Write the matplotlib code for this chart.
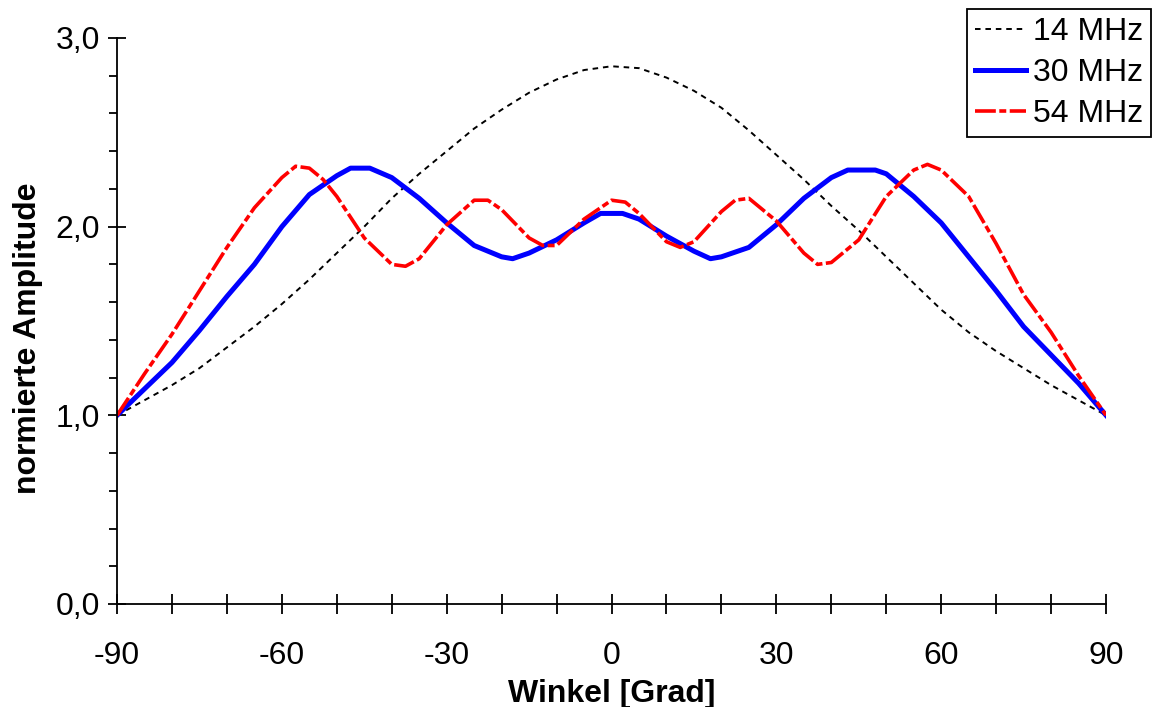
import numpy as np
import matplotlib.pyplot as plt
from matplotlib.ticker import MultipleLocator, FuncFormatter

plt.rcParams['font.family'] = ['Liberation Sans', 'DejaVu Sans']
plt.rcParams['axes.unicode_minus'] = False
plt.rcParams['lines.scale_dashes'] = False

# 14 MHz
w14 = [-90, -85, -80, -75, -70, -65, -60, -55, -50, -45, -40, -35, -30, -25, -20,
       -15, -10, -5, 0, 5, 10, 15, 20, 25, 30, 35, 40, 45, 50, 55, 60, 65, 70, 75,
       80, 85, 90]
a14 = [1.00, 1.08, 1.16, 1.25, 1.36, 1.47, 1.59, 1.72, 1.86, 2.00, 2.15, 2.28, 2.40,
       2.52, 2.62, 2.71, 2.78, 2.83, 2.85, 2.84, 2.79, 2.72, 2.63, 2.51, 2.38, 2.25,
       2.11, 1.98, 1.84, 1.70, 1.56, 1.44, 1.34, 1.25, 1.16, 1.08, 1.00]

# 30 MHz
w30 = [-90, -85, -80, -75, -70, -65, -60, -55, -50, -47.5, -44, -40, -35, -30, -25,
       -20, -18, -15, -10, -5, -2, 2, 5, 10, 15, 18, 20, 25, 30, 35, 40, 43, 48, 50,
       55, 60, 65, 70, 75, 80, 85, 90]
a30 = [1.00, 1.14, 1.28, 1.45, 1.63, 1.80, 2.00, 2.17, 2.27, 2.31, 2.31, 2.26, 2.15,
       2.02, 1.90, 1.84, 1.83, 1.86, 1.93, 2.02, 2.07, 2.07, 2.04, 1.95, 1.87, 1.83,
       1.84, 1.89, 2.01, 2.15, 2.26, 2.30, 2.30, 2.28, 2.16, 2.02, 1.84, 1.66, 1.47,
       1.32, 1.17, 1.00]

# 54 MHz
w54 = [-90, -85, -80, -75, -70, -65, -60, -57.5, -55, -52.5, -50, -45, -40, -37.5,
       -35, -30, -25, -22.5, -20, -15, -12.5, -10, -5, 0, 2.5, 5, 10, 12.5, 15, 20,
       22.5, 25, 30, 35, 37.5, 40, 45, 50, 55, 57.5, 60, 65, 70, 75, 80, 85, 90]
a54 = [1.00, 1.22, 1.43, 1.66, 1.89, 2.10, 2.26, 2.32, 2.31, 2.25, 2.16, 1.94, 1.80,
       1.79, 1.83, 2.01, 2.14, 2.14, 2.09, 1.94, 1.90, 1.90, 2.04, 2.14, 2.13, 2.07,
       1.92, 1.89, 1.92, 2.08, 2.14, 2.15, 2.03, 1.86, 1.80, 1.81, 1.93, 2.16, 2.30,
       2.33, 2.30, 2.16, 1.91, 1.64, 1.44, 1.21, 1.00]

fig = plt.figure(figsize=(11.52, 7.07), dpi=100)
ax = fig.add_axes([0.1016, 0.1457, 0.8585, 0.8006])

ax.plot(w14, a14, color='black', lw=1.4, dashes=(4, 3.5), label='14 MHz')
ax.plot(w30, a30, color='#0000ff', lw=3.6, label='30 MHz')
ax.plot(w54, a54, color='#ff0000', lw=2.6, dashes=(15, 2.5, 5, 2.5), label='54 MHz')

ax.set_xlim(-90, 90)
ax.set_ylim(0, 3)
for s in ['top', 'right']:
    ax.spines[s].set_visible(False)
for s in ['left', 'bottom']:
    ax.spines[s].set_linewidth(1.3)

ax.xaxis.set_major_locator(MultipleLocator(30))
ax.xaxis.set_minor_locator(MultipleLocator(10))
ax.yaxis.set_major_locator(MultipleLocator(1))
ax.yaxis.set_minor_locator(MultipleLocator(0.2))
ax.yaxis.set_major_formatter(FuncFormatter(lambda v, p: f"{v:.1f}".replace('.', ',')))
ax.xaxis.set_major_formatter(FuncFormatter(lambda v, p: f"{v:.0f}"))

ax.tick_params(axis='x', which='both', direction='inout', length=15, width=1.3,
               labelsize=23, pad=19)
ax.tick_params(axis='y', which='major', direction='inout', length=13, width=1.3,
               labelsize=23, pad=6)
ax.tick_params(axis='y', which='minor', direction='out', length=6, width=1.3)

ax.set_xlabel('Winkel [Grad]', fontsize=23, fontweight='bold', labelpad=6)
ax.set_ylabel('normierte Amplitude', fontsize=23, fontweight='bold')
ax.yaxis.set_label_coords(-0.075, 0.47)

leg = ax.legend(loc='upper right', bbox_to_anchor=(1151 / 1152, 1 - 9 / 707),
                bbox_transform=fig.transFigure, fontsize=23, frameon=True,
                fancybox=False, edgecolor='black', framealpha=1, borderaxespad=0,
                handlelength=1.6, handletextpad=0.2, labelspacing=0.35,
                borderpad=0.25)
leg.get_frame().set_linewidth(1.3)

fig.savefig('out.png', dpi=100)
